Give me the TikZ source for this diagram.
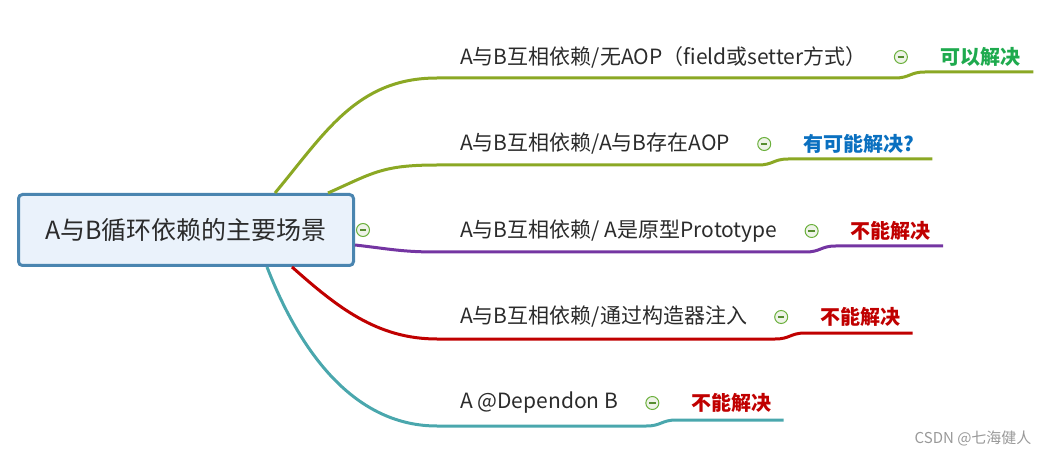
\documentclass[tikz,border=0pt]{standalone}
\usepackage{fontspec}
\setmainfont{Noto Sans CJK SC}
\usetikzlibrary{positioning,calc}

\definecolor{rootline}{HTML}{4A85B0}
\definecolor{rootfill}{HTML}{EAF2FB}
\definecolor{olivebranch}{HTML}{8BA824}
\definecolor{purplebranch}{HTML}{7435A2}
\definecolor{redbranch}{HTML}{C00000}
\definecolor{tealbranch}{HTML}{4AA7AD}
\definecolor{labeltext}{HTML}{2B2B2B}
\definecolor{okgreen}{HTML}{1EAA4E}
\definecolor{maybeblue}{HTML}{0A70C0}
\definecolor{nogo}{HTML}{C00000}
\definecolor{foldline}{HTML}{6BB03C}
\definecolor{foldfill}{HTML}{EEF3E8}

\tikzset{
  topic/.style={draw=rootline, fill=rootfill, line width=3pt, rounded corners=4pt,
    minimum width=335pt, minimum height=71pt, text=labeltext, font=\fontsize{25}{25}\selectfont},
  subtopic/.style={anchor=west, inner sep=0pt, text=labeltext, font=\fontsize{21}{21}\selectfont},
  fold/.style={circle, draw=foldline, fill=foldfill, line width=1pt, minimum size=13pt, inner sep=0pt,
    path picture={\draw[foldline!80!black, line width=1.1pt] ([xshift=-3.2pt]path picture bounding box.center) -- ([xshift=3.2pt]path picture bounding box.center);}},
  verdict/.style={inner sep=0pt, font=\bfseries\fontsize{20}{20}\selectfont},
  branch/.style={line width=3pt}
}

\begin{document}
\begin{tikzpicture}[x=1pt,y=-1pt]
\useasboundingbox (0,0) rectangle (1050,457);

% central topic
\node[topic] (root) at (186,230) {A与B循环依赖的主要场景};
\node[fold] (f0) at (363,230) {};

% sub topics and what happens
\node[subtopic] (s1) at (460,57) {A与B互相依赖/无AOP（field或setter方式）};
\node[fold, right=27pt of s1] (f1) {};
\node[verdict, text=okgreen, right=32pt of f1] (v1) {可以解决};

\node[subtopic] (s2) at (460,144) {A与B互相依赖/A与B存在AOP};
\node[fold, right=27pt of s2] (f2) {};
\node[verdict, text=maybeblue, right=32pt of f2] (v2) {有可能解决?};

\node[subtopic] (s3) at (460,231) {A与B互相依赖/ A是原型Prototype};
\node[fold, right=27pt of s3] (f3) {};
\node[verdict, text=nogo, right=32pt of f3] (v3) {不能解决};

\node[subtopic] (s4) at (460,317) {A与B互相依赖/通过构造器注入};
\node[fold, right=27pt of s4] (f4) {};
\node[verdict, text=nogo, right=32pt of f4] (v4) {不能解决};

\node[subtopic] (s5) at (460,403) {A @Dependon B};
\node[fold, right=27pt of s5] (f5) {};
\node[verdict, text=nogo, right=32pt of f5] (v5) {不能解决};

% joints where the curves turn into underlines
\coordinate (j1) at (437,78);
\coordinate (j2) at (437,165);
\coordinate (j3) at (437,252);
\coordinate (j4) at (437,339);
\coordinate (j5) at (437,426);

% branches
\draw[branch, olivebranch] ([xshift=-80pt]root.north east) .. controls +(50,-60) and +(-80,0) .. (j1)
  -- ($(f1 |- j1)+(-6,0)$) .. controls +(15,0) and +(-15,0) .. ($(f1 |- j1)+(24,-6)$) -- ($(v1.east |- j1)+(13,-6)$);
\draw[branch, olivebranch] ([xshift=-27pt]root.north east) .. controls +(45,-20) and +(-55,0) .. (j2)
  -- ($(f2 |- j2)+(-6,0)$) .. controls +(15,0) and +(-15,0) .. ($(f2 |- j2)+(24,-6)$) -- ($(v2.east |- j2)+(18,-6)$);
\draw[branch, purplebranch] ([yshift=-15pt]root.east) .. controls +(35,4) and +(-35,0) .. (j3)
  -- ($(f3 |- j3)+(-6,0)$) .. controls +(15,0) and +(-15,0) .. ($(f3 |- j3)+(24,-6)$) -- ($(v3.east |- j3)+(12,-6)$);
\draw[branch, redbranch] ([xshift=-63pt]root.south east) .. controls +(45,40) and +(-60,0) .. (j4)
  -- ($(f4 |- j4)+(-6,0)$) .. controls +(15,0) and +(-15,0) .. ($(f4 |- j4)+(24,-6)$) -- ($(v4.east |- j4)+(12,-6)$);
\draw[branch, tealbranch] ([xshift=-88pt]root.south east) .. controls +(35,90) and +(-80,0) .. (j5)
  -- ($(f5 |- j5)+(-6,0)$) .. controls +(15,0) and +(-15,0) .. ($(f5 |- j5)+(24,-6)$) -- ($(v5.east |- j5)+(12,-6)$);

% watermark
\node[anchor=east, text=gray!80, font=\fontsize{15}{15}\selectfont] (mark) at (1035,438) {CSDN @七海健人};
\end{tikzpicture}
\end{document}
